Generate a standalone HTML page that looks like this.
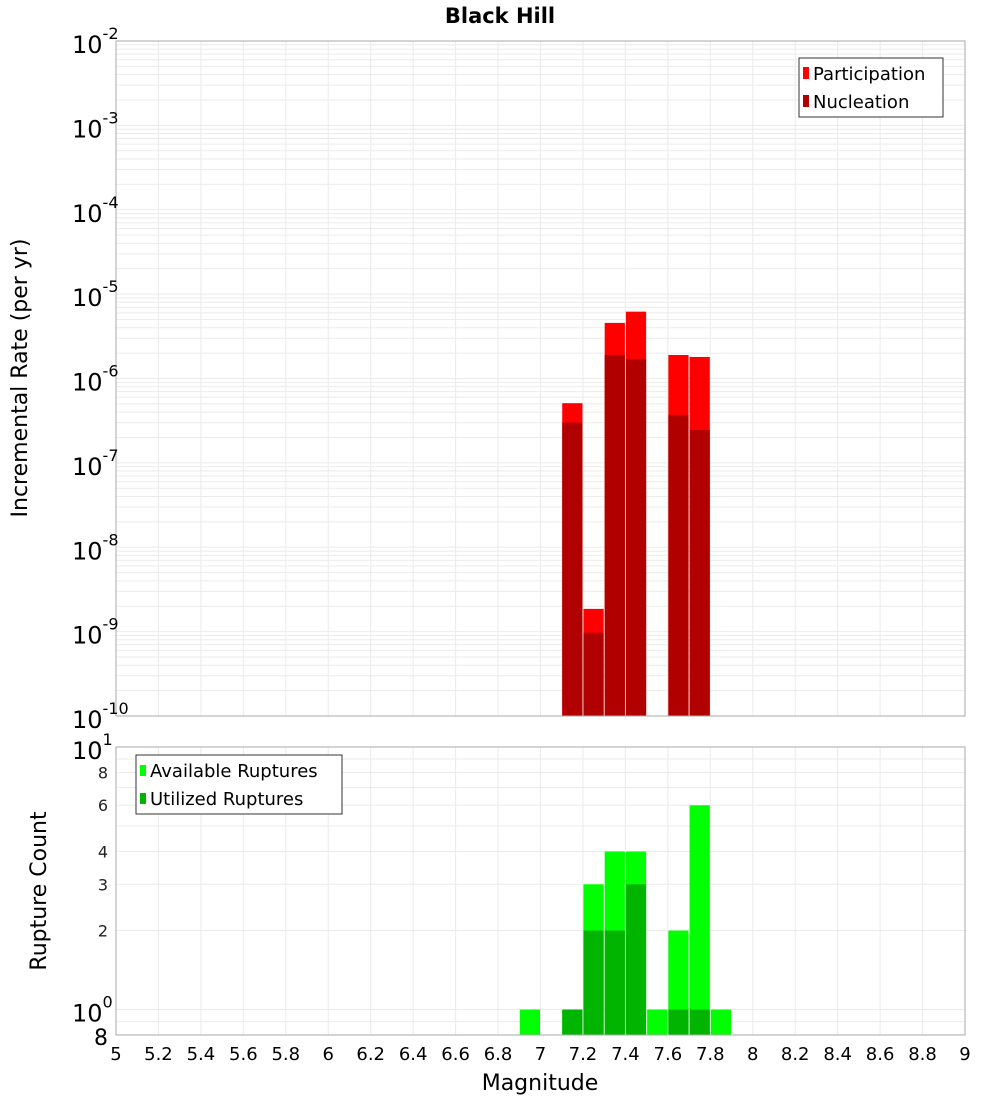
<!DOCTYPE html>
<html><head><meta charset="utf-8"><style>
body{margin:0;background:#fff;}
svg{display:block;font-family:"DejaVu Sans","Liberation Sans",sans-serif;}
</style></head><body>
<svg id="chart" width="1000" height="1100" xmlns="http://www.w3.org/2000/svg"></svg>
<script>
const mags = [6.95,7.15,7.25,7.35,7.45,7.55,7.65,7.75,7.85];
const participation = [null,5.1e-7,1.86e-9,4.56e-6,6.2e-6,null,1.9e-6,1.8e-6,null];
const nucleation = [null,3.0e-7,9.7e-10,1.9e-6,1.7e-6,null,3.7e-7,2.45e-7,null];
const available = [1,1,3,4,4,1,2,6,1];
const utilized = [null,1,2,2,3,null,1,1,null];
const xTicks = ["5","5.2","5.4","5.6","5.8","6","6.2","6.4","6.6","6.8","7","7.2","7.4","7.6","7.8","8","8.2","8.4","8.6","8.8","9"];
const topExps = [-2,-3,-4,-5,-6,-7,-8,-9,-10];
const botTicks = [2,3,4,6,8];

const NS="http://www.w3.org/2000/svg";
const svg=document.getElementById('chart');
function mk(tag,attrs,parent){const e=document.createElementNS(NS,tag);for(const k in attrs)e.setAttribute(k,attrs[k]);(parent||svg).appendChild(e);return e;}
const X0=116,X1=965;
const xs=m=>X0+(m-5)/4*(X1-X0);
const T0=41,T1=716;
const yTop=v=>T0+(-2-Math.log10(v))/8*(T1-T0);
const B0=747,B1=1035;
const yBot=v=>B1-(Math.log10(v)-Math.log10(0.8))/(1-Math.log10(0.8))*(B1-B0);

// title
const t=mk('text',{x:500,y:23,'text-anchor':'middle','font-size':21,'font-weight':'bold'});t.textContent='Black Hill';


// top plot
mk('rect',{x:X0,y:T0,width:X1-X0,height:T1-T0,fill:'#fff',stroke:'none'});
const gT=mk('g',{});

for(let e=-10;e<-2;e++){for(let k=1;k<10;k++){const y=yTop(k*Math.pow(10,e));mk('line',{x1:X0,x2:X1,y1:y,y2:y,stroke:'#ebebeb','stroke-width':1},gT);}}
xTicks.forEach(s=>{const x=xs(+s);mk('line',{x1:x,x2:x,y1:T0,y2:T1,stroke:'#ebebeb'},gT);});
const barsT=mk('g',{});

const bw=(xs(5.1)-xs(5))-1;
mags.forEach((m,i)=>{
  const x=xs(m-0.05)+0.5;
  if(participation[i]!=null){const r=mk('rect',{x:x,y:yTop(participation[i]),width:bw,height:T1-yTop(participation[i]),fill:'#ff0000'},barsT);
    }
  if(nucleation[i]!=null){const r=mk('rect',{x:x,y:yTop(nucleation[i]),width:bw,height:T1-yTop(nucleation[i]),fill:'#b00000'},barsT);
    }
});
mk('rect',{x:X0,y:T0,width:X1-X0,height:T1-T0,fill:'none',stroke:'#aaa'});
topExps.forEach(e=>{const y=yTop(Math.pow(10,e));
  const tx=mk('text',{x:72,y:y+12,'font-size':24});tx.textContent='10';
  
  const sp=mk('tspan',{dy:-14,'font-size':16},tx);sp.textContent=String(e);});
const yl=mk('text',{transform:'translate(27,378) rotate(-90)','text-anchor':'middle','font-size':22});yl.textContent='Incremental Rate (per yr)';

// top legend
const lg=mk('g',{});
mk('rect',{x:799,y:58,width:144,height:59,fill:'#fff',stroke:'#333'},lg);
mk('rect',{x:803,y:67,width:6,height:12,fill:'#ff0000'},lg);
mk('rect',{x:803,y:95,width:6,height:12,fill:'#b00000'},lg);
let lt=mk('text',{x:813,y:80,'font-size':18},lg);lt.textContent='Participation';
lt=mk('text',{x:813,y:108,'font-size':18},lg);lt.textContent='Nucleation';

// bottom plot
mk('rect',{x:X0,y:B0,width:X1-X0,height:B1-B0,fill:'#fff'});
const gB=mk('g',{});
[0.9,1,2,3,4,5,6,7,8,9].forEach(v=>{const y=yBot(v);mk('line',{x1:X0,x2:X1,y1:y,y2:y,stroke:'#ebebeb'},gB);});
xTicks.forEach(s=>{const x=xs(+s);mk('line',{x1:x,x2:x,y1:B0,y2:B1,stroke:'#ebebeb'},gB);});
const barsB=mk('g',{});
mags.forEach((m,i)=>{
  const x=xs(m-0.05)+0.5;
  if(available[i]!=null){const r=mk('rect',{x:x,y:yBot(available[i]),width:bw,height:B1-yBot(available[i]),fill:'#00ff00'},barsB);
    }
  if(utilized[i]!=null){const r=mk('rect',{x:x,y:yBot(utilized[i]),width:bw,height:B1-yBot(utilized[i]),fill:'#00b400'},barsB);
    }
});
mk('rect',{x:X0,y:B0,width:X1-X0,height:B1-B0,fill:'none',stroke:'#aaa'});
botTicks.forEach(v=>{const y=yBot(v);const tx=mk('text',{x:108,y:y+6,'text-anchor':'end','font-size':16,fill:'#222'});tx.textContent=String(v);
  });
[[1,'0'],[10,'1']].forEach(([v,s])=>{const y=yBot(v);const tx=mk('text',{x:72,y:y+12,'font-size':24});tx.textContent='10';
  
  const sp=mk('tspan',{dy:-14,'font-size':16},tx);sp.textContent=s;});
let e8=mk('text',{x:108,y:B1+10,'text-anchor':'end','font-size':22});e8.textContent='8';

const yl2=mk('text',{transform:'translate(46,891) rotate(-90)','text-anchor':'middle','font-size':22});yl2.textContent='Rupture Count';

xTicks.forEach(s=>{const tx=mk('text',{x:xs(+s),y:1060,'text-anchor':'middle','font-size':18});tx.textContent=s;
  });
const xl=mk('text',{x:540,y:1090,'text-anchor':'middle','font-size':22});xl.textContent='Magnitude';

const lg2=mk('g',{});
mk('rect',{x:136,y:755,width:206,height:59,fill:'#fff',stroke:'#333'},lg2);
mk('rect',{x:140,y:765,width:6,height:11,fill:'#00ff00'},lg2);
mk('rect',{x:140,y:793,width:6,height:11,fill:'#00b400'},lg2);
lt=mk('text',{x:150,y:777,'font-size':18},lg2);lt.textContent='Available Ruptures';
lt=mk('text',{x:150,y:805,'font-size':18},lg2);lt.textContent='Utilized Ruptures';
</script>
</body></html>
